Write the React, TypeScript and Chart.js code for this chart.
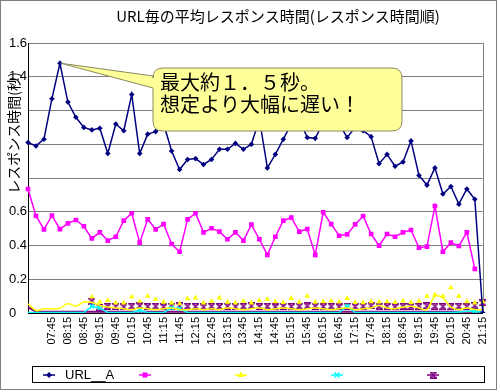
import React, { useEffect, useRef } from 'react';
import { Chart, registerables } from 'chart.js';

Chart.register(...registerables);

const chartTitle = 'URL毎の平均レスポンス時間(レスポンス時間順)';
const yAxisTitle = 'レスポンス時間(秒)';
const calloutLines = ['最大約１．５秒。', '想定より大幅に遅い！'];

const timeLabels = [
  '07:00', '07:15', '07:30', '07:45', '08:00', '08:15', '08:30', '08:45', '09:00', '09:15',
  '09:30', '09:45', '10:00', '10:15', '10:30', '10:45', '11:00', '11:15', '11:30', '11:45',
  '12:00', '12:15', '12:30', '12:45', '13:00', '13:15', '13:30', '13:45', '14:00', '14:15',
  '14:30', '14:45', '15:00', '15:15', '15:30', '15:45', '16:00', '16:15', '16:30', '16:45',
  '17:00', '17:15', '17:30', '17:45', '18:00', '18:15', '18:30', '18:45', '19:00', '19:15',
  '19:30', '19:45', '20:00', '20:15', '20:30', '20:45', '21:00', '21:15',
];

const shownTimeTicks = [
  '07:45', '08:15', '08:45', '09:15', '09:45', '10:15', '10:45', '11:15', '11:45', '12:15',
  '12:45', '13:15', '13:45', '14:15', '14:45', '15:15', '15:45', '16:15', '16:45', '17:15',
  '17:45', '18:15', '18:45', '19:15', '19:45', '20:15', '20:45', '21:15',
];

const yTickLabels = ['0', '0.2', '0.4', '0.6', '', '', '', '1.4', '1.6'];

const urlA = [
  1.01, 0.99, 1.03, 1.27, 1.48, 1.25, 1.16, 1.10, 1.085, 1.095,
  0.945, 1.12, 1.08, 1.295, 0.945, 1.06, 1.075, 1.12, 0.96, 0.85,
  0.91, 0.915, 0.88, 0.91, 0.97, 0.97, 1.005, 0.97, 1.0, 1.15,
  0.86, 0.94, 1.03, 1.12, 1.15, 1.04, 1.035, 1.13, 1.12, 1.12,
  1.04, 1.10, 1.08, 1.045, 0.885, 0.94, 0.87, 0.895, 1.02, 0.815,
  0.758, 0.86, 0.705, 0.75, 0.645, 0.735, 0.674, 0.0,
];

const urlB = [
  0.735, 0.575, 0.496, 0.577, 0.497, 0.531, 0.551, 0.514, 0.442, 0.478,
  0.429, 0.452, 0.547, 0.591, 0.417, 0.555, 0.496, 0.527, 0.409, 0.363,
  0.555, 0.591, 0.478, 0.502, 0.482, 0.437, 0.478, 0.429, 0.524, 0.437,
  0.344, 0.452, 0.547, 0.565, 0.482, 0.498, 0.344, 0.597, 0.527, 0.458,
  0.466, 0.525, 0.575, 0.468, 0.399, 0.468, 0.452, 0.478, 0.492, 0.387,
  0.393, 0.634, 0.363, 0.417, 0.397, 0.478, 0.261, null,
];

const urlCLine = [
  0.055, 0.015, 0.025, 0.025, 0.028, 0.055, 0.04, 0.065, 0.062, 0.045,
  0.035, 0.03, 0.025, 0.02, 0.03, 0.025, 0.02, 0.025, 0.03, 0.02,
  0.02, 0.025, 0.02, 0.025, 0.02, 0.03, 0.025, 0.02, 0.025, 0.03,
  0.02, 0.025, 0.03, 0.025, 0.02, 0.025, 0.03, 0.025, 0.02, 0.025,
  0.03, 0.02, 0.025, 0.03, 0.045, 0.03, 0.025, 0.035, 0.04, 0.03,
  0.02, 0.1, 0.09, 0.035, 0.02, 0.03, 0.02, 0.02,
];

const urlCMarks = [
  null, null, null, null, null, null, null, null, 0.095, 0.065,
  0.075, 0.06, 0.06, 0.095, 0.07, 0.1, 0.08, 0.065, 0.06, 0.055,
  0.085, 0.09, 0.06, 0.07, 0.09, 0.065, 0.06, 0.07, 0.06, 0.075,
  0.08, 0.067, 0.063, 0.087, 0.065, 0.1, 0.065, 0.068, 0.072, 0.066,
  0.087, 0.063, 0.062, 0.068, 0.066, 0.067, 0.063, 0.072, 0.063, 0.07,
  0.1, 0.108, 0.1, 0.15, 0.1, 0.067, 0.06, 0.067,
];

const urlD = [
  0.003, 0.003, 0.003, 0.003, 0.003, 0.003, 0.003, 0.003, 0.04, 0.03,
  0.003, 0.003, 0.003, 0.003, 0.015, 0.003, 0.003, 0.003, 0.03, 0.025,
  0.003, 0.003, 0.003, 0.003, 0.003, 0.003, 0.003, 0.003, 0.003, 0.003,
  0.003, 0.003, 0.003, 0.003, 0.003, 0.003, 0.003, 0.003, 0.003, 0.003,
  0.04, 0.003, 0.003, 0.003, 0.003, 0.003, 0.003, 0.003, 0.003, 0.003,
  0.003, 0.003, 0.003, 0.003, 0.006, 0.01, 0.012, 0.003,
];

const urlELine = [
  0.035, 0.008, 0.008, 0.008, 0.008, 0.008, 0.008, 0.008, 0.008, 0.008,
  0.008, 0.008, 0.008, 0.008, 0.008, 0.008, 0.008, 0.008, 0.008, 0.008,
  0.008, 0.008, 0.008, 0.008, 0.008, 0.008, 0.008, 0.008, 0.008, 0.008,
  0.008, 0.008, 0.008, 0.008, 0.008, 0.008, 0.008, 0.008, 0.008, 0.008,
  0.008, 0.008, 0.008, 0.008, 0.008, 0.008, 0.008, 0.008, 0.008, 0.008,
  0.008, 0.008, 0.008, 0.008, 0.008, 0.008, 0.008, 0.008,
];

const urlEMarks = [
  null, null, null, null, null, null, null, null, 0.07, 0.035,
  0.04, 0.038, 0.036, 0.04, 0.042, 0.038, 0.04, 0.037, 0.04, 0.042,
  0.04, 0.038, 0.036, 0.04, 0.038, 0.04, 0.037, 0.04, 0.042, 0.038,
  0.04, 0.036, 0.04, 0.038, 0.04, 0.042, 0.04, 0.038, 0.04, 0.036,
  0.04, 0.038, 0.04, 0.042, 0.04, 0.038, 0.036, 0.04, 0.038, 0.04,
  0.042, 0.04, 0.038, 0.036, 0.04, 0.038, 0.045, 0.06,
];

const seriesNames = ['URL__A', '', '', '', ''];
const NAVY = '#000080';
const MAGENTA = '#FF00FF';
const YELLOW = '#FFFF00';
const CYAN = '#00FFFF';
const PURPLE = '#800080';

const JP = '"Noto Sans CJK JP", "Noto Sans", sans-serif';
const LAT = '"Liberation Sans", Arial, sans-serif';

function makeHourglass(color: string) {
  const c = document.createElement('canvas');
  c.width = 7;
  c.height = 7;
  const g = c.getContext('2d')!;
  g.strokeStyle = color;
  g.lineWidth = 1.4;
  g.beginPath();
  g.moveTo(0.5, 0.7);
  g.lineTo(6.5, 0.7);
  g.lineTo(0.5, 6.3);
  g.lineTo(6.5, 6.3);
  g.closePath();
  g.stroke();
  return c;
}

function drawMarker(ctx: CanvasRenderingContext2D, kind: string, x: number, y: number, color: string, img?: HTMLCanvasElement) {
  ctx.save();
  ctx.fillStyle = color;
  ctx.strokeStyle = color;
  ctx.lineWidth = 1.5;
  ctx.beginPath();
  if (kind === 'diamond') {
    ctx.moveTo(x, y - 3); ctx.lineTo(x + 3, y); ctx.lineTo(x, y + 3); ctx.lineTo(x - 3, y); ctx.closePath(); ctx.fill();
  } else if (kind === 'square') {
    ctx.rect(x - 2.5, y - 2.5, 5, 5); ctx.fill();
  } else if (kind === 'triangle') {
    ctx.moveTo(x, y - 3.5); ctx.lineTo(x + 3, y + 2); ctx.lineTo(x - 3, y + 2); ctx.closePath(); ctx.fill();
  } else if (kind === 'cross') {
    ctx.moveTo(x - 2.5, y - 2.5); ctx.lineTo(x + 2.5, y + 2.5); ctx.moveTo(x + 2.5, y - 2.5); ctx.lineTo(x - 2.5, y + 2.5); ctx.stroke();
  } else if (kind === 'hourglass' && img) {
    ctx.drawImage(img, x - 3.5, y - 3.5);
  }
  ctx.restore();
}

export default function App() {
  const ref = useRef<HTMLCanvasElement | null>(null);

  useEffect(() => {
    const canvas = ref.current;
    if (!canvas) return;
    const hourglass = makeHourglass(PURPLE);

    const legendKinds = [
      { name: seriesNames[0], color: NAVY, kind: 'diamond' },
      { name: seriesNames[1], color: MAGENTA, kind: 'square' },
      { name: seriesNames[2], color: YELLOW, kind: 'triangle' },
      { name: seriesNames[3], color: CYAN, kind: 'cross' },
      { name: seriesNames[4], color: PURPLE, kind: 'hourglass' },
    ];

    const decor = {
      id: 'decor',
      beforeDraw(chart: any) {
        const ctx = chart.ctx;
        ctx.save();
        ctx.fillStyle = '#ffffff';
        ctx.fillRect(0, 0, chart.width, chart.height);
        ctx.restore();
      },
      beforeDatasetsDraw(chart: any) {
        const { ctx, chartArea } = chart;
        ctx.save();
        ctx.strokeStyle = '#808080';
        ctx.lineWidth = 1;
        ctx.beginPath();
        ctx.moveTo(Math.round(chartArea.right) + 0.5, chartArea.top);
        ctx.lineTo(Math.round(chartArea.right) + 0.5, chartArea.bottom);
        ctx.stroke();
        ctx.restore();
      },
      afterDatasetsDraw(chart: any) {
        const ctx = chart.ctx;
        const meta = chart.getDatasetMeta(0);
        let maxI = 0;
        urlA.forEach((v, i) => { if (v > urlA[maxI]) maxI = i; });
        const tip = meta.data[maxI];
        const bx = 153, by = 68, bw = 249, bh = 63, r = 10;
        ctx.save();
        ctx.fillStyle = '#FFFF99';
        ctx.strokeStyle = '#8a8a60';
        ctx.lineWidth = 1;
        ctx.beginPath();
        ctx.moveTo(bx + r, by);
        ctx.lineTo(bx + bw - r, by);
        ctx.quadraticCurveTo(bx + bw, by, bx + bw, by + r);
        ctx.lineTo(bx + bw, by + bh - r);
        ctx.quadraticCurveTo(bx + bw, by + bh, bx + bw - r, by + bh);
        ctx.lineTo(bx + r, by + bh);
        ctx.quadraticCurveTo(bx, by + bh, bx, by + bh - r);
        ctx.lineTo(bx, by + 20);
        ctx.lineTo(tip.x + 1, tip.y);
        ctx.lineTo(bx, by + 8);
        ctx.lineTo(bx, by + r);
        ctx.quadraticCurveTo(bx, by, bx + r, by);
        ctx.closePath();
        ctx.fill();
        ctx.stroke();
        ctx.fillStyle = '#000';
        ctx.font = `20px ${JP}`;
        ctx.textAlign = 'left';
        ctx.textBaseline = 'middle';
        ctx.fillText(calloutLines[0], 160, 82);
        ctx.fillText(calloutLines[1], 160, 104);
        ctx.restore();
      },
      afterDraw(chart: any) {
        const ctx = chart.ctx;
        ctx.save();
        // outer frame
        ctx.strokeStyle = '#808080';
        ctx.lineWidth = 1;
        ctx.strokeRect(0.5, 0.5, 496, 389);
        // title
        ctx.fillStyle = '#000';
        ctx.font = `15px ${JP}`;
        ctx.textAlign = 'center';
        ctx.textBaseline = 'middle';
        ctx.fillText(chartTitle, 278, 16);
        // y axis title
        ctx.save();
        ctx.translate(14, 133);
        ctx.rotate(-Math.PI / 2);
        ctx.font = `14px ${JP}`;
        ctx.fillText(yAxisTitle, 0, 0);
        ctx.restore();
        // legend
        ctx.strokeStyle = '#000';
        ctx.strokeRect(32.5, 366.5, 452, 16);
        legendKinds.forEach((e, k) => {
          const x = 43 + k * 96;
          const y = 375;
          ctx.strokeStyle = e.color;
          ctx.lineWidth = 1.5;
          ctx.beginPath();
          ctx.moveTo(x, y);
          ctx.lineTo(x + 12, y);
          ctx.stroke();
          drawMarker(ctx, e.kind, x + 6, y, e.color, hourglass);
          if (e.name) {
            ctx.fillStyle = '#000';
            ctx.font = `13px ${LAT}`;
            ctx.textAlign = 'left';
            ctx.textBaseline = 'middle';
            ctx.fillText(e.name, x + 22, y + 0.5);
          }
        });
        ctx.restore();
      },
    };

    const chart = new Chart(canvas, {
      type: 'line',
      data: {
        labels: timeLabels,
        datasets: [
          {
            label: seriesNames[0], data: urlA, borderColor: NAVY, backgroundColor: NAVY,
            borderWidth: 1.5, pointStyle: 'rectRot', pointRadius: 2.8, pointBorderWidth: 0, tension: 0,
          },
          {
            label: seriesNames[1], data: urlB, borderColor: MAGENTA, backgroundColor: MAGENTA,
            borderWidth: 1.5, pointStyle: 'rect', pointRadius: 3.3, pointBorderWidth: 0, tension: 0,
          },
          {
            label: seriesNames[2], data: urlCLine, borderColor: YELLOW, backgroundColor: YELLOW,
            borderWidth: 1.5, pointRadius: 0, tension: 0.4,
          },
          {
            label: 'c-marks', data: urlCMarks, borderColor: YELLOW, backgroundColor: YELLOW,
            showLine: false, pointStyle: 'triangle', pointRadius: 3.2, pointBorderWidth: 0,
          },
          {
            label: seriesNames[3], data: urlD, borderColor: CYAN, backgroundColor: CYAN,
            borderWidth: 1.5, pointStyle: 'crossRot', pointBorderWidth: 1.5,
            pointRadius: (c: any) => (c.raw > 0.01 ? 3 : 0), tension: 0,
          },
          {
            label: 'e-marks', data: urlEMarks, borderColor: PURPLE, backgroundColor: PURPLE,
            showLine: false, pointStyle: hourglass, pointRadius: 3.5,
          },
          {
            label: seriesNames[4], data: urlELine, borderColor: PURPLE, backgroundColor: PURPLE,
            borderWidth: 2, pointRadius: 0, tension: 0,
          },
        ] as any,
      },
      options: {
        responsive: false,
        animation: false,
        events: [],
        layout: { padding: { top: 43, right: 12, left: 9, bottom: 0 } },
        plugins: {
          legend: { display: false },
          title: { display: false },
          tooltip: { enabled: false },
        },
        scales: {
          x: {
            type: 'category',
            offset: false,
            grid: { display: false, drawTicks: false },
            border: { color: '#000', width: 1 },
            afterFit: (s: any) => { s.height = 79; },
            ticks: {
              autoSkip: false,
              minRotation: 90,
              maxRotation: 90,
              padding: 4,
              color: '#000',
              font: { family: LAT, size: 11 },
              callback: (_v: any, i: number) => (shownTimeTicks.includes(timeLabels[i]) ? timeLabels[i] : ''),
            },
          },
          y: {
            min: 0,
            max: 1.6,
            grid: { color: '#808080', lineWidth: 1, drawTicks: false },
            border: { color: '#000', width: 1 },
            afterFit: (s: any) => { s.width = 19; },
            ticks: {
              stepSize: 0.2,
              crossAlign: 'far',
              padding: 0,
              color: '#000',
              font: { family: LAT, size: 13 },
              callback: (_v: any, i: number) => yTickLabels[i] ?? '',
            },
          },
        },
      } as any,
      plugins: [decor],
    });

    return () => chart.destroy();
  }, []);

  return (
    <div style={{ position: 'fixed', left: 0, top: 0, width: 500, height: 392, background: '#fff' }}>
      <canvas ref={ref} width={500} height={392} style={{ display: 'block' }} />
    </div>
  );
}
